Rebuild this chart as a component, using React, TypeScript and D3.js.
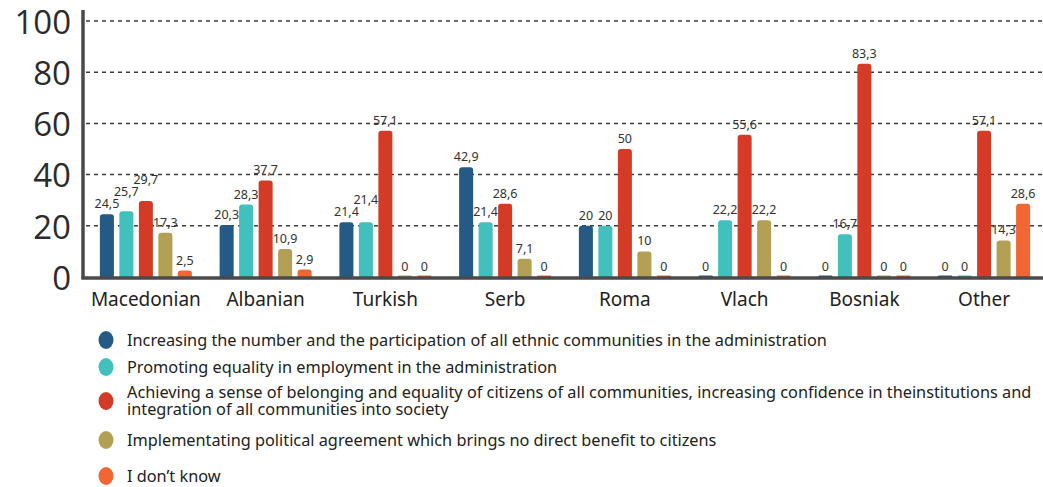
import React, { useEffect, useRef } from 'react';
import * as d3 from 'd3';

const categories = ['Macedonian', 'Albanian', 'Turkish', 'Serb', 'Roma', 'Vlach', 'Bosniak', 'Other'];

const seriesNames = [
  'Increasing the number and the participation of all ethnic communities in the administration',
  'Promoting equality in employment in the administration',
  'Achieving a sense of belonging and equality of citizens of all communities, increasing confidence in theinstitutions and|integration of all communities into society',
  'Implementating political agreement which brings no direct benefit to citizens',
  'I don\u2019t know',
];

const seriesColors = ['#245a83', '#42c0be', '#d43b27', '#b3a055', '#f26633'];

// one array per series, in category order
const participation = [24.5, 20.3, 21.4, 42.9, 20, 0, 0, 0];
const employment = [25.7, 28.3, 21.4, 21.4, 20, 22.2, 16.7, 0];
const belonging = [29.7, 37.7, 57.1, 28.6, 50, 55.6, 83.3, 57.1];
const political = [17.3, 10.9, 0, 7.1, 10, 22.2, 0, 14.3];
const dontKnow = [2.5, 2.9, 0, 0, 0, 0, 0, 28.6];

const series = [participation, employment, belonging, political, dontKnow];

const yTicks = [0, 20, 40, 60, 80, 100];

const FONT = '"Noto Sans", sans-serif';

export default function App() {
  const svgRef = useRef<SVGSVGElement>(null);

  useEffect(() => {
    if (!svgRef.current) return;
    const svg = d3.select(svgRef.current);
    svg.selectAll('*').remove();

    const width = 1043;
    const axisX = 83;

    const y = d3.scaleLinear().domain([0, 100]).range([277, 21]);
    const x = d3.scaleBand<string>().domain(categories).range([86, 1044]).padding(0);
    const inner = d3.scaleBand<number>()
      .domain(d3.range(series.length))
      .range([x.bandwidth() / 2 - 46, x.bandwidth() / 2 + 46])
      .paddingInner(0.28)
      .paddingOuter(0);

    // gridlines
    yTicks.filter(t => t > 0).forEach(t => {
      svg.append('line')
        .attr('x1', axisX + 3)
        .attr('x2', width)
        .attr('y1', y(t))
        .attr('y2', y(t))
        .attr('stroke', '#3d3d3d')
        .attr('stroke-width', 1.5)
        .attr('stroke-dasharray', '4,4');
    });

    // y tick labels
    yTicks.forEach(t => {
      svg.append('text')
        .attr('x', 71)
        .attr('y', y(t) + 1)
        .attr('dy', '0.36em')
        .attr('text-anchor', 'end')
        .attr('fill', '#2b2b2b')
        .style('font-family', '"Open Sans", sans-serif')
        .style('font-size', '33px')
        .text(t);
    });

    // bars with rounded tops
    const barPath = (x0: number, w: number, top: number, bottom: number) => {
      const h = bottom - top;
      const r = Math.min(3, h / 2, w / 2);
      return `M${x0},${bottom}V${top + r}Q${x0},${top} ${x0 + r},${top}H${x0 + w - r}Q${x0 + w},${top} ${x0 + w},${top + r}V${bottom}Z`;
    };

    categories.forEach((cat, ci) => {
      const g = svg.append('g').attr('transform', `translate(${x(cat)},0)`);
      let prev: { cx: number; w: number; y: number } | null = null;
      series.forEach((values, si) => {
        const v = values[ci];
        const bx = inner(si) || 0;
        const bw = inner.bandwidth();
        const top = v > 0 ? y(v) : y(0) - 1.5;
        g.append('path')
          .attr('d', barPath(bx, bw, top, y(0)))
          .attr('fill', seriesColors[si]);

        const label = String(v).replace('.', ',');
        const cx = bx + bw / 2;
        const w = label.length * 7;
        let ly = (v > 0 ? y(v) : y(0)) - 6;
        // nudge a label up when it would collide with its left neighbour
        if (prev && Math.abs(cx - prev.cx) < (w + prev.w) / 2 + 1 && Math.abs(ly - prev.y) < 12) {
          ly = prev.y - 12;
        }
        prev = { cx, w, y: ly };
        g.append('text')
          .attr('x', cx)
          .attr('y', ly)
          .attr('text-anchor', 'middle')
          .attr('fill', '#333')
          .style('font-family', FONT)
          .style('font-size', '12.5px')
          .text(label);
      });

      svg.append('text')
        .attr('x', (x(cat) || 0) + x.bandwidth() / 2)
        .attr('y', 306)
        .attr('text-anchor', 'middle')
        .attr('fill', '#222')
        .style('font-family', FONT)
        .style('font-size', '19px')
        .text(cat);
    });

    // axes
    svg.append('line')
      .attr('x1', axisX)
      .attr('x2', axisX)
      .attr('y1', 10)
      .attr('y2', 279)
      .attr('stroke', '#4a4a4a')
      .attr('stroke-width', 3.5);
    svg.append('line')
      .attr('x1', axisX - 1.5)
      .attr('x2', width)
      .attr('y1', y(0) + 1)
      .attr('y2', y(0) + 1)
      .attr('stroke', '#4a4a4a')
      .attr('stroke-width', 3.5);

    // legend
    const legendY = [340, 367, 401, 440, 476];
    seriesNames.forEach((name, i) => {
      const lg = svg.append('g').attr('transform', `translate(0,${legendY[i]})`);
      lg.append('ellipse')
        .attr('cx', 106)
        .attr('cy', 0)
        .attr('rx', 7.5)
        .attr('ry', 9)
        .attr('fill', seriesColors[i]);
      const lines = name.split('|');
      const text = lg.append('text')
        .attr('x', 127)
        .attr('y', lines.length > 1 ? -9 : 0)
        .attr('fill', '#222')
        .style('font-family', FONT)
        .style('font-size', '16.3px');
      lines.forEach((l, li) => {
        text.append('tspan')
          .attr('x', 127)
          .attr('dy', li === 0 ? '0.35em' : '17.5px')
          .text(l);
      });
    });
  }, []);

  return (
    <svg
      ref={svgRef}
      width={1043}
      height={487}
      style={{ position: 'absolute', left: 0, top: 0, background: '#fff' }}
    />
  );
}
